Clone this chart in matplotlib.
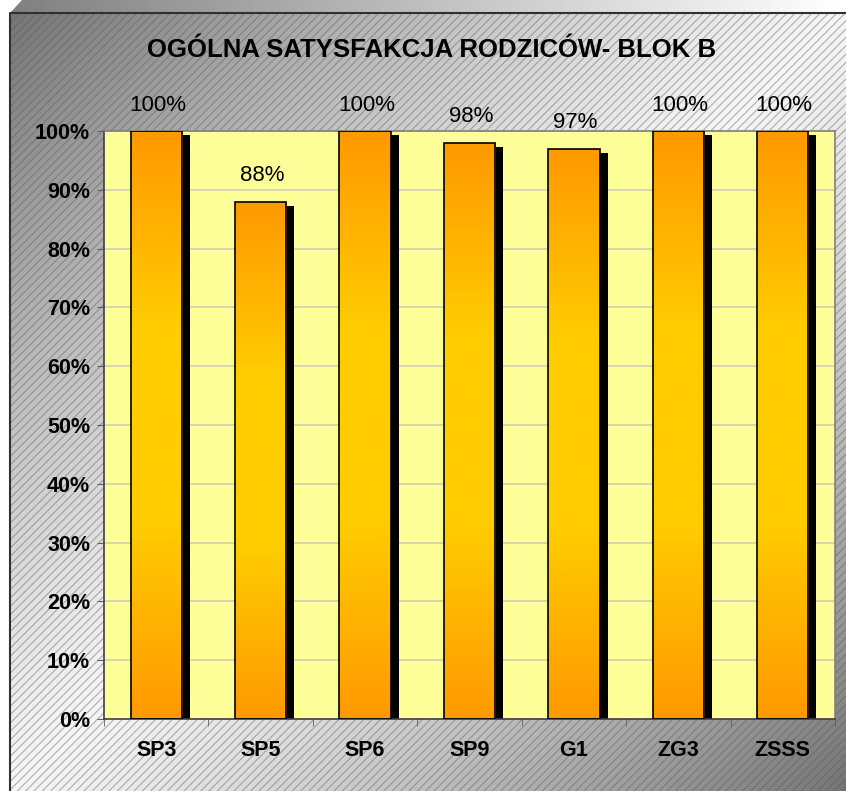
import numpy as np
import matplotlib.pyplot as plt
from matplotlib.patches import Rectangle, Polygon
from matplotlib.colors import LinearSegmentedColormap
import matplotlib.patheffects as pe

plt.rcParams['font.family'] = ['Liberation Sans', 'DejaVu Sans']
plt.rcParams['hatch.linewidth'] = 0.8

categories = ['SP3', 'SP5', 'SP6', 'SP9', 'G1', 'ZG3', 'ZSSS']
values = [1.00, 0.88, 1.00, 0.98, 0.97, 1.00, 1.00]
labels = ['100%', '88%', '100%', '98%', '97%', '100%', '100%']
yticks = np.arange(0, 1.01, 0.1)
title = 'OGÓLNA SATYSFAKCJA RODZICÓW- BLOK B'

W, H = 846, 791
fig = plt.figure(figsize=(W / 100, H / 100), dpi=100)
fig.patch.set_facecolor('white')

# background frame (pixel coords)
bg = fig.add_axes([0, 0, 1, 1], zorder=-5)
bg.set_xlim(0, W)
bg.set_ylim(H, 0)
bg.axis('off')
xx, yy = np.meshgrid(np.linspace(0, 1, 200), np.linspace(0, 1, 200))
t = (xx + yy) / 2
g = 0.96 - 0.5 * np.abs(2 * t - 1) ** 1.2
bg.imshow(g, cmap='gray', vmin=0, vmax=1, extent=(10, W, H, 13), aspect='auto',
          interpolation='bilinear', zorder=1)
bg.add_patch(Rectangle((10, 13), W - 10, H - 13, facecolor='none',
                       edgecolor=(0.35, 0.35, 0.35, 0.45), hatch='////',
                       linewidth=0, zorder=2))
top = np.linspace(0.5, 1.0, 200)[None, :]
im = bg.imshow(top, cmap='gray', vmin=0, vmax=1, extent=(10, W, 13, 0), aspect='auto',
               interpolation='bilinear', zorder=1)
im.set_clip_path(Polygon([(10, 13), (22, 0), (W, 0), (W, 13)], closed=True,
                         transform=bg.transData))
bg.plot([10, 10, W], [H, 13, 13], color='#303030', lw=1.5, zorder=3)

# main axes
ax = fig.add_axes([104 / W, 1 - 719 / H, (835 - 104) / W, (719 - 131) / H])
ax.set_facecolor('#FFFF99')
x = np.arange(len(categories))
bw = 0.49

bars = ax.bar(x, values, width=bw, color='#FF9900', edgecolor='none', zorder=2,
              path_effects=[pe.SimplePatchShadow(offset=(5.8, -2.9), shadow_rgbFace='black', alpha=1.0),
                            pe.Normal()])

cmap = LinearSegmentedColormap.from_list('bar', ['#FF9900', '#FFCC00', '#FFCC00', '#FF9900'])
grad = np.linspace(0, 1, 256)[:, None]
for b in bars:
    bx, by = b.get_x(), b.get_y()
    im = ax.imshow(grad, cmap=cmap, extent=(bx, bx + b.get_width(), by, by + b.get_height()),
                   aspect='auto', origin='upper', zorder=2.5, interpolation='bilinear')
    im.set_clip_path(b)
ax.bar(x, values, width=bw, color='none', edgecolor='black', linewidth=1.2, zorder=3)

for xi, v, lab in zip(x, values, labels):
    ax.annotate(lab, (xi, v), xytext=(1, 11), textcoords='offset points',
                ha='center', va='bottom', fontsize=16, annotation_clip=False)

ax.set_xlim(-0.5, len(categories) - 0.5)
ax.set_ylim(0, 1)
ax.set_yticks(yticks)
ax.set_yticklabels(['%d%%' % round(v * 100) for v in yticks], fontsize=15.5, fontweight='bold')
ax.set_xticks(x)
ax.set_xticklabels(categories, fontsize=15.5, fontweight='bold')
ax.set_xticks(np.arange(-0.5, len(categories)), minor=True)
ax.tick_params(axis='x', which='major', length=0, pad=15)
ax.tick_params(axis='x', which='minor', length=5, color='#606060', direction='out')
ax.tick_params(axis='y', length=5, color='#606060', direction='out', pad=5)
ax.grid(axis='y', color='#D0D0B0', linewidth=1.2, zorder=1)
ax.set_axisbelow(True)
for s in ax.spines.values():
    s.set_color('#808080')
    s.set_linewidth(1.2)
ax.spines['left'].set_color('#404040')
ax.spines['bottom'].set_color('#404040')

fig.text(432 / W, 1 - 50 / H, title, ha='center', va='center', fontsize=18.5, fontweight='bold')

fig.savefig('out.png', dpi=100)
